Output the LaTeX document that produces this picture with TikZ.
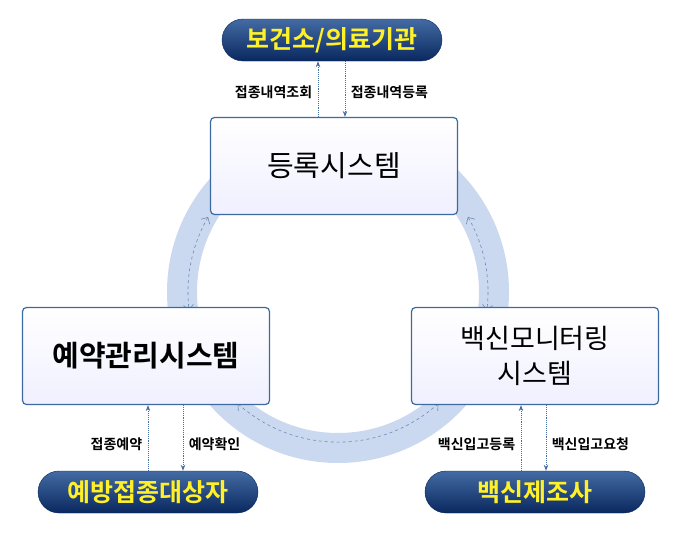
\documentclass[tikz,border=0pt]{standalone}
\usepackage{fontspec}
\setmainfont{Noto Sans CJK KR}
\newfontfamily\krbold[BoldFont={Noto Sans CJK KR Bold}]{Noto Sans CJK KR Bold}
\usepackage{xcolor}
\usetikzlibrary{arrows.meta}
\definecolor{ringblue}{RGB}{203,217,240}
\definecolor{pillblue}{RGB}{20,70,140}
\definecolor{pilldark}{RGB}{10,40,95}
\definecolor{boxline}{RGB}{60,105,160}
\definecolor{arrowblue}{RGB}{70,110,165}
\definecolor{txtyellow}{RGB}{255,240,40}

\begin{document}
\begin{tikzpicture}[x=1pt,y=-1pt,
            pill/.style={shape=rectangle, rounded corners=21pt, minimum width=220pt, minimum height=42pt,
                top color=pillblue!80!white, bottom color=pilldark, draw=pilldark,
                text=txtyellow, font=\krbold\fontsize{25}{25}\selectfont},
            sysbox/.style={shape=rectangle, rounded corners=4pt, minimum width=247pt, minimum height=97pt,
                draw=boxline, line width=1.2pt, top color=white, bottom color=blue!6, align=center},
            flow/.style={arrowblue, densely dotted, line width=0.9pt, -{Stealth[length=6pt]}},
            ring/.style={ringblue, line width=30pt},
            cyc/.style={arrowblue!80, dashed, line width=0.6pt, {Straight Barb[length=5pt]}-{Straight Barb[length=5pt]}},
            lab/.style={text=black, font=\krbold\fontsize{14}{14}\selectfont}]
        \useasboundingbox (0,0) rectangle (680,538);

        % ring behind the systems
        \draw[ring] (338,292) circle (156);
        \draw[cyc] (338,292) ++(-150:150) arc[start angle=-150, end angle=-187, radius=150];
        \draw[cyc] (338,292) ++(-30:150) arc[start angle=-30, end angle=7, radius=150];
        \draw[cyc] (338,292) ++(132:150) arc[start angle=132, end angle=48, radius=150];

        \node[sysbox, font=\fontsize{29}{29}\selectfont] (reg) at (334,166) {등록시스템};
        \node[sysbox, font=\krbold\fontsize{29}{29}\selectfont] (resv) at (146,356) {예약관리시스템};
        \node[sysbox, font=\fontsize{27}{35}\selectfont] (mon) at (535,356) {백신모니터링\\시스템};

        \node[pill] (clinic) at (332,40) {보건소/의료기관};
        \node[pill] (person) at (148,492) {예방접종대상자};
        \node[pill] (maker) at (535,492) {백신제조사};

        \draw[flow] (reg.north -| 318,0) -- (clinic.south -| 318,0) node[pos=0.45, lab, left=2pt]{접종내역조회};
        \draw[flow] (clinic.south -| 345,0) -- (reg.north -| 345,0) node[pos=0.55, lab, right=2pt]{접종내역등록};

        \draw[flow] (person.north -| 148,0) -- (resv.south -| 148,0) node[pos=0.4, lab, left=2pt]{접종예약};
        \draw[flow] (resv.south -| 183,0) -- (person.north -| 183,0) node[pos=0.6, lab, right=2pt]{예약확인};

        \draw[flow] (maker.north -| 521,0) -- (mon.south -| 521,0) node[pos=0.4, lab, left=2pt]{백신입고등록};
        \draw[flow] (mon.south -| 546,0) -- (maker.north -| 546,0) node[pos=0.6, lab, right=2pt]{백신입고요청};
    \end{tikzpicture}
\end{document}
